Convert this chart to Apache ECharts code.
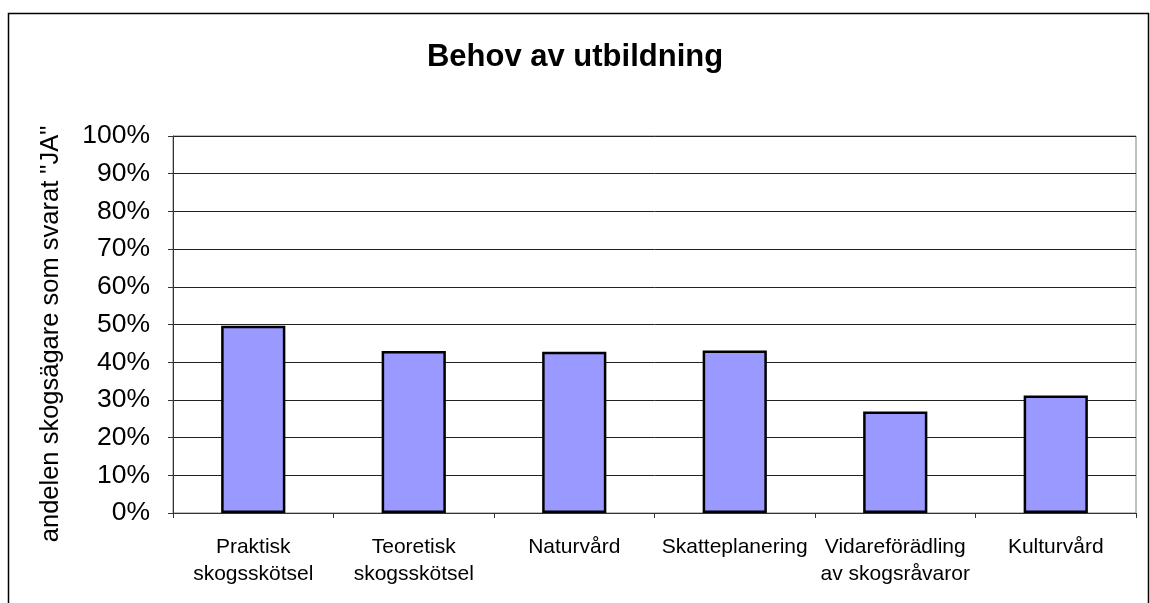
<!DOCTYPE html>
<html>
<head>
<meta charset="UTF-8">
<style>
html, body { margin: 0; padding: 0; background: #fff; }
#chart_div { width: 1150px; height: 603px; }
</style>
</head>
<body>
<div id="chart_div"></div>
<script type="text/javascript" src="https://cdn.jsdelivr.net/npm/echarts@6/dist/echarts.min.js"></script>
<script type="text/javascript">
// data
var categories = ["Praktisk\nskogsskötsel", "Teoretisk\nskogsskötsel", "Naturvård",
	"Skatteplanering", "Vidareförädling\nav skogsråvaror", "Kulturvård"];
var shares = [49.7, 43.0, 42.8, 43.1, 26.9, 31.2];
var yTicks = [0, 10, 20, 30, 40, 50, 60, 70, 80, 90, 100];

var FONT = "'Liberation Sans', Arial, sans-serif";
var myChart = echarts.init(document.getElementById('chart_div'));

var option = {
	animation: false,
	title: {
		text: "Behov av utbildning",
		left: 'center',
		top: 37,
		textStyle: { fontFamily: FONT, fontSize: 31, fontWeight: 'bold', color: '#000' }
	},
	grid: {
		left: 173, right: 14, top: 136, bottom: 90,
		show: true, borderColor: '#808080', borderWidth: 1,
		containLabel: false
	},
	graphic: [
		{ // outer chart frame
			type: 'rect',
			shape: { x: 8.5, y: 13.5, width: 1140, height: 620 },
			style: { fill: null, stroke: '#000', lineWidth: 1.5 },
			silent: true
		},
		{ // y axis title
			type: 'text',
			x: 51, y: 334,
			rotation: Math.PI / 2,
			style: {
				text: 'andelen skogsägare som svarat "JA"',
				fontFamily: FONT, fontSize: 25.5, fill: '#000',
				align: 'center', verticalAlign: 'middle'
			}
		}
	],
	xAxis: {
		type: 'category',
		data: categories,
		boundaryGap: true,
		axisLine: { lineStyle: { color: '#333', width: 1 } },
		axisTick: { show: true, length: 5, alignWithLabel: false, lineStyle: { color: '#333' } },
		axisLabel: {
			interval: 0, margin: 21,
			fontFamily: FONT, fontSize: 21, color: '#000', lineHeight: 27
		}
	},
	yAxis: {
		type: 'value',
		min: 0, max: 100, interval: 10,
		axisLine: { show: true, lineStyle: { color: '#333', width: 1 } },
		axisTick: { show: true, length: 5, lineStyle: { color: '#333' } },
		splitLine: { show: true, lineStyle: { color: '#222', width: 1 } },
		axisLabel: {
			margin: 23,
			fontFamily: FONT, fontSize: 26.5, color: '#000',
			formatter: function (v) { return yTicks.indexOf(v) >= 0 ? v + '%' : ''; }
		}
	},
	series: [{
		type: 'bar',
		data: shares,
		barWidth: '40%',
		itemStyle: { color: '#9999FF', borderColor: '#000', borderWidth: 2.5 }
	}]
};

myChart.setOption(option, true);
</script>
</body>
</html>
